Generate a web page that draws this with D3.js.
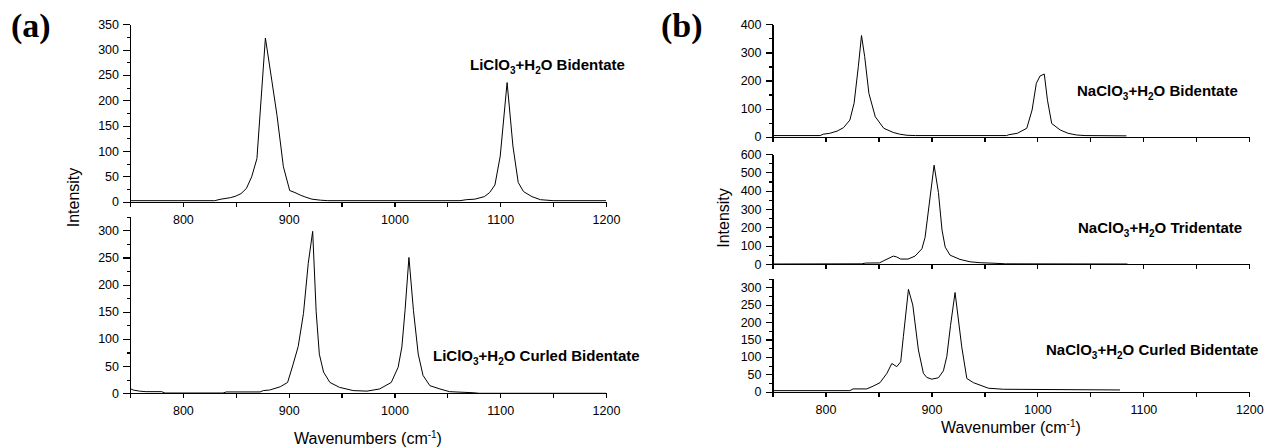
<!DOCTYPE html>
<html>
<head>
<meta charset="utf-8">
<script src="https://cdn.jsdelivr.net/npm/d3@7"></script>
<style>
  body { margin: 0; background: #fff; }
  svg { display: block; font-family: "Liberation Sans", Arial, sans-serif; }
  .axis path, .axis line { stroke: #000; stroke-width: 1.2; shape-rendering: crispEdges; }
  .axis text { font-size: 12.5px; fill: #000; font-family: "Liberation Sans", Arial, sans-serif; }
  .curve { fill: none; stroke: #000; stroke-width: 1; }
  .label { font-size: 15px; font-weight: bold; fill: #000; }
  .title { font-size: 16px; fill: #000; }
  .panel-tag { font-family: "Liberation Serif", "Times New Roman", serif; font-size: 34px; font-weight: bold; }
</style>
</head>
<body>
<svg id="chart" width="1266" height="448"></svg>
<script>
// wavenumber range shared by every subplot
var xDomain = [750, 1200];
var xTicks = d3.range(750, 1201, 50);

// (a) LiClO3 + H2O, [wavenumber, intensity]
var liBidentate = [
  [750, 2], [830, 2], [836, 5], [845, 8], [850, 11], [855, 16], [860, 26], [865, 49],
  [870, 85], [878, 323], [884, 240], [889, 170], [895, 69], [901, 22], [906, 18],
  [911, 13], [916, 9], [922, 5], [930, 3], [937, 2], [1062, 2], [1068, 4], [1076, 5],
  [1085, 10], [1090, 18], [1095, 33], [1100, 90], [1106.5, 235], [1112, 110],
  [1117, 38], [1122, 20], [1130, 10], [1138, 4], [1150, 2], [1200, 2]
];
var liCurled = [
  [750, 9], [753, 6], [759, 4], [765, 3], [780, 3], [783, 0.5], [838, 0.5], [841, 2.5],
  [873, 2.5], [876, 5], [882, 6], [892, 12], [899, 20], [904, 52], [909, 86], [914, 147],
  [918.5, 239], [922.7, 298], [926, 150], [929, 72], [933, 39], [939, 20], [948, 11],
  [961, 5], [974, 4], [986, 8], [997, 20], [1003.5, 48], [1007, 85], [1010, 152],
  [1013.7, 250], [1018, 152], [1022.5, 72], [1027, 33], [1033.5, 14], [1043, 8],
  [1052, 3], [1075, 1], [1080, 0], [1200, 0]
];

// (b) NaClO3 + H2O
var naBidentate = [
  [750, 4], [795, 4], [798, 9], [804, 12], [811, 20], [817, 32], [823, 59], [827, 119],
  [831, 249], [834, 360], [837, 285], [841, 154], [847, 71], [855, 30], [864, 15],
  [870, 9], [877, 5], [885, 4], [971, 4], [973, 7], [981, 12], [990, 30], [995, 95],
  [999, 190], [1002.5, 216], [1006.5, 223], [1009.5, 130], [1013.5, 47], [1021.5, 24],
  [1029, 12], [1037, 6], [1045, 4], [1084, 3]
];
var naTridentate = [
  [750, 0], [834, 1], [838, 5], [851, 6], [855, 18], [864, 43], [867, 39], [871, 27],
  [878, 27], [884.5, 43], [891, 83], [894, 145], [902.5, 539], [906.6, 390], [910, 185],
  [913, 92], [917.6, 48], [927, 25], [936.5, 12], [946, 7], [960, 4], [970, 1], [1085, 0]
];
var naCurled = [
  [750, 3], [823, 3], [826, 8], [839, 8], [845, 16], [851.5, 26], [858, 53], [862.6, 81],
  [867.3, 72], [871, 86], [873.5, 158], [878.3, 294], [882.4, 249], [887.7, 120],
  [892.4, 53], [895.6, 41], [900.3, 36], [906.6, 40], [911.3, 60], [914.5, 101],
  [918, 190], [922.3, 285], [928.6, 129], [933.4, 38], [939.6, 26], [953.8, 10],
  [968, 7], [1078, 5]
];

var svg = d3.select('#chart');

var panels = [
  {
    tag: '(a)', tagX: 11, xRange: [130, 606], xTitle: 'Wavenumbers', xTitleY: 444,
    yTitleX: 79, yTitleY: 197.5,
    plots: [
      { data: liBidentate, yMax: 350, major: 50, minor: 25, yRange: [201.7, 24.3], xLabels: true,
        salt: 'Li', tail: 'Bidentate', lx: 470, ly: 70 },
      { data: liCurled, yMax: 325, major: 50, minor: 25, yRange: [393.3, 216.7], xLabels: true,
        salt: 'Li', tail: 'Curled Bidentate', lx: 433, ly: 361 }
    ]
  },
  {
    tag: '(b)', tagX: 661, xRange: [772.5, 1249.3], xTitle: 'Wavenumber', xTitleY: 433,
    yTitleX: 729, yTitleY: 218,
    plots: [
      { data: naBidentate, yMax: 400, major: 100, minor: 50, yRange: [136.7, 24.3], xLabels: false,
        salt: 'Na', tail: 'Bidentate', lx: 1077, ly: 96 },
      { data: naTridentate, yMax: 600, major: 100, minor: 50, yRange: [264, 154], xLabels: false,
        salt: 'Na', tail: 'Tridentate', lx: 1078, ly: 233 },
      { data: naCurled, yMax: 325, major: 50, minor: 25, yRange: [391.7, 278.6], xLabels: true,
        salt: 'Na', tail: 'Curled Bidentate', lx: 1046, ly: 355 }
    ]
  }
];

function addLabel(g, p) {
  var t = g.append('text').attr('class', 'label').attr('x', p.lx).attr('y', p.ly);
  t.append('tspan').text(p.salt + 'ClO');
  t.append('tspan').attr('dy', 4).attr('font-size', '10px').text('3');
  t.append('tspan').attr('dy', -4).text('+H');
  t.append('tspan').attr('dy', 4).attr('font-size', '10px').text('2');
  t.append('tspan').attr('dy', -4).text('O ' + p.tail);
}

panels.forEach(function (panel) {
  var g = svg.append('g');
  var x = d3.scaleLinear().domain(xDomain).range(panel.xRange);

  panel.plots.forEach(function (p) {
    var y = d3.scaleLinear().domain([0, p.yMax]).range(p.yRange);

    // minor y ticks first, then major ones with labels
    g.append('g').attr('class', 'axis')
      .attr('transform', 'translate(' + panel.xRange[0] + ',0)')
      .call(d3.axisLeft(y).tickValues(d3.range(0, p.yMax + 0.1, p.minor))
        .tickSize(3.5).tickSizeOuter(0).tickFormat(''));
    g.append('g').attr('class', 'axis')
      .attr('transform', 'translate(' + panel.xRange[0] + ',0)')
      .call(d3.axisLeft(y).tickValues(d3.range(0, p.yMax + 0.1, p.major))
        .tickSize(7).tickPadding(4).tickSizeOuter(0).tickFormat(d3.format('d')));

    g.append('g').attr('class', 'axis')
      .attr('transform', 'translate(0,' + p.yRange[0] + ')')
      .call(d3.axisBottom(x).tickValues(xTicks).tickSize(5).tickPadding(8).tickSizeOuter(0)
        .tickFormat(function (d) { return (p.xLabels && d % 100 === 0) ? d : ''; }));

    var line = d3.line()
      .x(function (d) { return x(d[0]); })
      .y(function (d) { return y(d[1]); });

    g.append('path').datum(p.data).attr('class', 'curve').attr('d', line);

    addLabel(g, p);
  });

  g.append('text').attr('class', 'panel-tag').attr('x', panel.tagX).attr('y', 37).text(panel.tag);

  var xt = g.append('text').attr('class', 'title')
    .attr('x', (panel.xRange[0] + panel.xRange[1]) / 2).attr('y', panel.xTitleY)
    .attr('text-anchor', 'middle');
  xt.append('tspan').text(panel.xTitle + ' (cm');
  xt.append('tspan').attr('dy', -6).attr('font-size', '10px').text('-1');
  xt.append('tspan').attr('dy', 6).text(')');

  g.append('text').attr('class', 'title')
    .attr('transform', 'translate(' + panel.yTitleX + ',' + panel.yTitleY + ') rotate(-90)')
    .attr('text-anchor', 'middle')
    .text('Intensity');
});
</script>
</body>
</html>
